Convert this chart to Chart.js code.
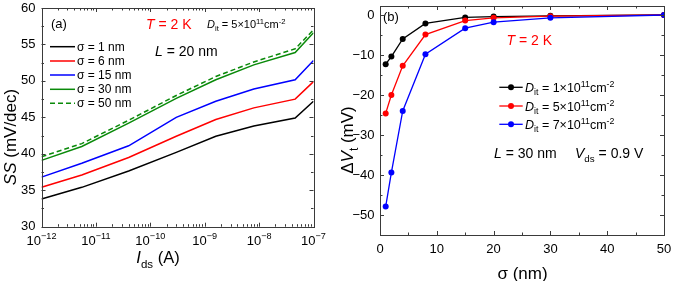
<!DOCTYPE html>
<html>
<head>
<meta charset="utf-8">
<script src="https://cdn.jsdelivr.net/npm/chart.js@4.4.0/dist/chart.umd.min.js"></script>
<style>
  html, body { margin: 0; padding: 0; background: #fff; }
  #wrap { position: relative; width: 674px; height: 281px; overflow: hidden; background: #fff; }
  #wrap canvas { position: absolute; top: 0; }
  #left { left: 0; }
  #right { left: 340px; }
</style>
</head>
<body>
<div id="wrap">
  <canvas id="left" width="340" height="281"></canvas>
  <canvas id="right" width="334" height="281"></canvas>
</div>
<script>
// panel (a): SS vs Ids for several sigma
const idsValues = [1e-12, 5.5e-12, 4e-11, 3e-10, 1.6e-9, 8e-9, 4.6e-8, 1e-7];
const ssSigma1 = [33.8, 35.4, 37.65, 40.2, 42.4, 43.8, 44.9, 47.2];
const ssSigma6 = [35.4, 37.1, 39.5, 42.4, 44.7, 46.3, 47.5, 49.9];
const ssSigma15 = [36.8, 38.7, 41.1, 45.0, 47.2, 48.9, 50.15, 52.8];
const ssSigma30 = [39.1, 41.0, 44.2, 47.6, 50.15, 52.2, 53.9, 56.6];
const ssSigma50 = [39.6, 41.4, 44.6, 48.0, 50.6, 52.6, 54.4, 57.0];
const sigmaLabels = ["\u03c3 = 1 nm", "\u03c3 = 6 nm", "\u03c3 = 15 nm", "\u03c3 = 30 nm", "\u03c3 = 50 nm"];
const idsTicks = [1e-12, 1e-11, 1e-10, 1e-9, 1e-8, 1e-7];
const ssTicks = [30, 35, 40, 45, 50, 55, 60];

// panel (b): delta Vt vs sigma for several Dit
const sigmaValues = [1, 2, 4, 8, 15, 20, 30, 50];
const dvtDit1 = [-12.3, -10.4, -6.0, -2.1, -0.6, -0.4, -0.2, 0];
const dvtDit5 = [-24.6, -20.0, -12.7, -4.9, -1.4, -0.7, -0.3, 0];
const dvtDit7 = [-47.9, -39.4, -24.0, -9.8, -3.3, -1.8, -0.7, 0];
const ditLabels = ["1", "5", "7"];
const sigmaTicks = [0, 10, 20, 30, 40, 50];
const dvtTicks = [-50, -40, -30, -20, -10, 0];

const FONT = '"Liberation Sans", Arial, Helvetica, sans-serif';

// rich text: parts = [[text, flags]], flags: i = italic, b = subscript, p = superscript
function partFont(flags, fs) {
  const small = flags.includes('b') || flags.includes('p');
  const size = small ? fs * 0.7 : fs;
  return (flags.includes('i') ? 'italic ' : '') + size.toFixed(1) + 'px ' + FONT;
}
function richWidth(ctx, parts, fs) {
  let w = 0;
  parts.forEach(([t, f]) => { ctx.font = partFont(f, fs); w += ctx.measureText(t).width; });
  return w;
}
function drawRich(ctx, parts, x, y, fs, align, color) {
  const w = richWidth(ctx, parts, fs);
  let cx = align === 'center' ? x - w / 2 : (align === 'right' ? x - w : x);
  ctx.fillStyle = color || '#000';
  ctx.textAlign = 'left';
  ctx.textBaseline = 'alphabetic';
  parts.forEach(([t, f]) => {
    ctx.font = partFont(f, fs);
    let dy = 0;
    if (f.includes('b')) dy = fs * 0.28;
    if (f.includes('p')) dy = -fs * 0.4;
    ctx.fillText(t, cx, y + dy);
    cx += ctx.measureText(t).width;
  });
}

function ditParts(n) {
  return [['D', 'i'], ['it', 'b'], [' = ' + n + '\u00d710', ''], ['11', 'p'], ['cm', ''], ['-2', 'p']];
}

function minorLog(lo, hi) {
  const out = [];
  for (let e = lo; e < hi; e++) for (let k = 2; k <= 9; k++) out.push(k * Math.pow(10, e));
  return out;
}
function minorLin(ticks, step) {
  return ticks.slice(0, -1).map(v => v + step);
}

// keep chart area fixed: no extra padding for overflowing tick labels
function fixY(width) {
  return s => { s.width = width; s.paddingTop = 0; s.paddingBottom = 0; };
}
function fixX(height) {
  return s => { s.height = height; s.paddingLeft = 0; s.paddingRight = 0; };
}

// inward ticks on all four sides plus the frame
const frameTicks = {
  id: 'frameTicks',
  afterDraw(chart, args, o) {
    const { ctx, chartArea: a } = chart;
    const xs = chart.scales.x, ys = chart.scales.y;
    ctx.save();
    ctx.strokeStyle = '#3a3a3a';
    ctx.lineWidth = 1;
    const seg = (x1, y1, x2, y2) => { ctx.beginPath(); ctx.moveTo(x1, y1); ctx.lineTo(x2, y2); ctx.stroke(); };
    const tx = (vals, len) => vals.forEach(v => {
      const p = Math.round(xs.getPixelForValue(v)) + 0.5;
      if (p < a.left - 1 || p > a.right + 1) return;
      seg(p, a.bottom, p, a.bottom - len);
      seg(p, a.top, p, a.top + len);
    });
    const ty = (vals, len) => vals.forEach(v => {
      const p = Math.round(ys.getPixelForValue(v)) + 0.5;
      if (p < a.top - 1 || p > a.bottom + 1) return;
      seg(a.left, p, a.left + len, p);
      seg(a.right, p, a.right - len, p);
    });
    tx(o.xMajor, 4); tx(o.xMinor, 2.5);
    ty(o.yMajor, 4); ty(o.yMinor, 2.5);
    ctx.strokeRect(Math.round(a.left) + 0.5, Math.round(a.top) + 0.5,
      Math.round(a.right - a.left), Math.round(a.bottom - a.top));
    ctx.restore();
    if (o.extra) o.extra(chart);
  }
};

const tickFont = { family: FONT, size: 13 };

// ---------- panel (a) ----------
const ssSeries = [ssSigma1, ssSigma6, ssSigma15, ssSigma30, ssSigma50];
const leftColors = ['#000000', '#ff0000', '#0000ff', '#0a8a0a', '#0a8a0a'];
const leftDash = [[], [], [], [], [5, 3]];

function drawLeftExtras(chart) {
  const { ctx } = chart;
  const xs = chart.scales.x;
  // x tick labels with superscripts
  idsTicks.forEach(v => {
    const p = xs.getPixelForValue(v);
    drawRich(ctx, [['10', ''], ['\u2212' + Math.round(-Math.log10(v)), 'p']], p, 244.5, 13, 'center');
  });
  // axis titles
  drawRich(ctx, [['I', 'i'], ['ds', 'b'], [' (A)', '']], 158, 263, 16.5, 'center');
  ctx.save();
  ctx.translate(16, 137);
  ctx.rotate(-Math.PI / 2);
  drawRich(ctx, [['SS', 'i'], [' (mV/dec)', '']], 0, 0, 17, 'center');
  ctx.restore();
  // annotations
  drawRich(ctx, [['(a)', '']], 51, 28, 13, 'left');
  drawRich(ctx, [['T', 'i'], [' = 2 K', '']], 146, 29, 14, 'left', '#ff0000');
  drawRich(ctx, ditParts('5'), 207, 28, 11, 'left');
  drawRich(ctx, [['L', 'i'], [' = 20 nm', '']], 155, 56, 14, 'left');
  // legend
  const rows = [46.7, 61, 75, 89.3, 103.3];
  chart.data.datasets.forEach((ds, i) => {
    const y = rows[i];
    ctx.save();
    ctx.strokeStyle = ds.borderColor;
    ctx.lineWidth = ds.borderWidth;
    ctx.setLineDash(ds.borderDash || []);
    ctx.beginPath(); ctx.moveTo(50, y); ctx.lineTo(75, y); ctx.stroke();
    ctx.restore();
    ctx.font = '12px ' + FONT;
    ctx.fillStyle = '#000';
    ctx.textAlign = 'left';
    ctx.textBaseline = 'middle';
    ctx.fillText(ds.label, 77, y + 0.5);
  });
}

new Chart(document.getElementById('left'), {
  type: 'line',
  data: {
    datasets: ssSeries.map((vals, i) => ({
      label: sigmaLabels[i],
      data: idsValues.map((x, j) => ({ x, y: vals[j] })),
      borderColor: leftColors[i],
      borderWidth: 1.5,
      borderDash: leftDash[i],
      pointRadius: 0,
      fill: false,
      tension: 0
    }))
  },
  options: {
    responsive: false,
    animation: false,
    layout: { padding: { top: 8, right: 26.5, bottom: 0, left: 0 } },
    plugins: {
      legend: { display: false },
      tooltip: { enabled: false },
      frameTicks: {
        xMajor: idsTicks, xMinor: minorLog(-12, -7),
        yMajor: ssTicks, yMinor: minorLin(ssTicks, 2.5),
        extra: drawLeftExtras
      }
    },
    scales: {
      x: {
        type: 'logarithmic', min: 1e-12, max: 1e-7,
        grid: { display: false }, border: { display: false },
        ticks: { display: false },
        afterFit: fixX(54.3)
      },
      y: {
        type: 'linear', min: 30, max: 60,
        grid: { display: false, drawTicks: false }, border: { display: false },
        ticks: { stepSize: 5, font: tickFont, color: '#000', padding: 6, autoSkip: false },
        afterFit: fixY(41.5)
      }
    }
  },
  plugins: [frameTicks]
});

// ---------- panel (b) ----------
const dvtSeries = [dvtDit1, dvtDit5, dvtDit7];
const rightColors = ['#000000', '#ff0000', '#0000ff'];

function drawRightExtras(chart) {
  const { ctx } = chart;
  drawRich(ctx, [['\u03c3 (nm)', '']], 182.5, 279, 17, 'center');
  ctx.save();
  ctx.translate(13, 140);
  ctx.rotate(-Math.PI / 2);
  drawRich(ctx, [['\u0394', ''], ['V', 'i'], ['t', 'b'], [' (mV)', '']], 0, 0, 17, 'center');
  ctx.restore();
  drawRich(ctx, [['(b)', '']], 43, 20.5, 13, 'left');
  drawRich(ctx, [['T', 'i'], [' = 2 K', '']], 166.5, 44.5, 14, 'left', '#ff0000');
  drawRich(ctx, [['L', 'i'], [' = 30 nm', '']], 154, 158, 14, 'left');
  drawRich(ctx, [['V', 'i'], ['ds', 'b'], [' = 0.9 V', '']], 235, 158, 14, 'left');
  const rows = [87.3, 106, 124.3];
  chart.data.datasets.forEach((ds, i) => {
    const y = rows[i];
    ctx.save();
    ctx.strokeStyle = ds.borderColor;
    ctx.fillStyle = ds.borderColor;
    ctx.lineWidth = ds.borderWidth;
    ctx.beginPath(); ctx.moveTo(159.3, y); ctx.lineTo(182.7, y); ctx.stroke();
    ctx.beginPath(); ctx.arc(171, y, ds.pointRadius, 0, Math.PI * 2); ctx.fill();
    ctx.restore();
    drawRich(ctx, ditParts(ditLabels[i]), 185, y + 4.5, 12.5, 'left');
  });
}

new Chart(document.getElementById('right'), {
  type: 'line',
  data: {
    datasets: dvtSeries.map((vals, i) => ({
      label: 'Dit ' + ditLabels[i],
      data: sigmaValues.map((x, j) => ({ x, y: vals[j] })),
      borderColor: rightColors[i],
      backgroundColor: rightColors[i],
      borderWidth: 1.3,
      pointRadius: 3,
      pointBorderWidth: 0,
      fill: false,
      tension: 0,
      order: 2 - i
    }))
  },
  options: {
    responsive: false,
    animation: false,
    layout: { padding: { top: 6, right: 10, bottom: 0, left: 0 } },
    plugins: {
      legend: { display: false },
      tooltip: { enabled: false },
      frameTicks: {
        xMajor: sigmaTicks, xMinor: minorLin(sigmaTicks, 5),
        yMajor: dvtTicks, yMinor: [-55, -45, -35, -25, -15, -5],
        extra: drawRightExtras
      }
    },
    scales: {
      x: {
        type: 'linear', min: 0, max: 50,
        grid: { display: false, drawTicks: false }, border: { display: false },
        ticks: { stepSize: 10, font: tickFont, color: '#000', padding: 7, autoSkip: false, maxRotation: 0 },
        afterFit: fixX(46)
      },
      y: {
        type: 'linear', min: -55, max: 2.25,
        grid: { display: false, drawTicks: false }, border: { display: false },
        ticks: {
          stepSize: 10, includeBounds: false, font: tickFont, color: '#000', padding: 5.5, autoSkip: false,
          callback: v => (v % 10 !== 0 ? '' : (v < 0 ? '\u2212' + Math.abs(v) : String(v)))
        },
        afterFit: fixY(40)
      }
    }
  },
  plugins: [frameTicks]
});
</script>
</body>
</html>
